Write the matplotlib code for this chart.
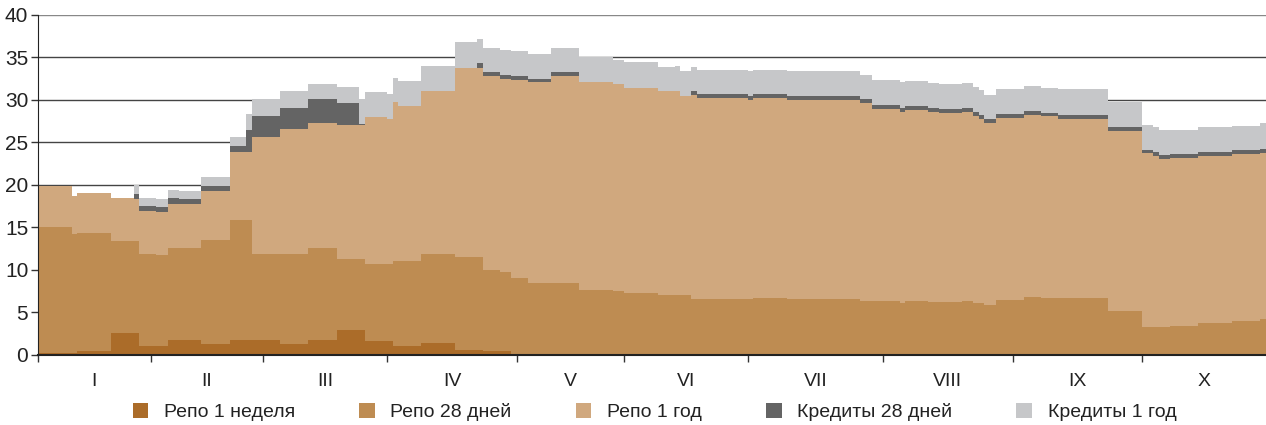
import numpy as np
import matplotlib.pyplot as plt
from matplotlib.patches import Patch

plt.rcParams['font.family'] = ['Liberation Sans Narrow', 'Liberation Sans', 'DejaVu Sans']

# business days in each month
months = ['I', 'II', 'III', 'IV', 'V', 'VI', 'VII', 'VIII', 'IX', 'X']
month_days = [20, 20, 22, 23, 19, 22, 24, 23, 23, 22]

# number of days each level was held
seg_len = [6, 1, 6, 4, 1, 3, 2, 2, 4, 5,
           3, 1, 5, 5, 5, 4, 1, 4, 1, 1,
           4, 6, 4, 1, 3, 2, 3, 4, 5, 6,
           2, 6, 3, 1, 2, 1, 9, 1, 6, 13,
           2, 5, 1, 4, 2, 4, 2, 1, 1, 2,
           5, 3, 3, 9, 6, 2, 1, 2, 5, 6,
           5, 1]

repo_1w = [0.2, 0.2, 0.45, 2.6, 2.6, 1.1, 1.1, 1.75, 1.75, 1.3,
           1.75, 1.75, 1.7, 1.25, 1.7, 2.95, 2.95, 1.65, 1.65, 1.0,
           1.0, 1.45, 0.6, 0.6, 0.4, 0.4, 0.1, 0.1, 0.1, 0.1,
           0.1, 0.1, 0.1, 0.1, 0.1, 0.1, 0.1, 0.1, 0.1, 0.1,
           0.1, 0.1, 0.1, 0.1, 0.1, 0.1, 0.1, 0.1, 0.1, 0.1,
           0.1, 0.1, 0.1, 0.1, 0.1, 0.1, 0.1, 0.1, 0.1, 0.1,
           0.1, 0.1]
repo_28d = [14.8, 14.0, 13.85, 10.85, 10.85, 10.75, 10.7, 10.85, 10.85, 12.25,
            14.15, 14.15, 10.2, 10.65, 10.9, 8.35, 8.35, 9.1, 9.1, 10.1,
            10.1, 10.4, 10.9, 10.9, 9.6, 9.3, 9.0, 8.3, 8.3, 7.55,
            7.4, 7.15, 6.9, 6.95, 6.95, 6.5, 6.5, 6.45, 6.6, 6.5,
            6.25, 6.25, 6.05, 6.25, 6.1, 6.1, 6.2, 5.95, 5.95, 5.75,
            6.3, 6.7, 6.65, 6.65, 5.1, 3.2, 3.2, 3.2, 3.35, 3.65,
            3.85, 4.15]
repo_1y = [4.9, 4.5, 4.8, 5.0, 4.9, 5.05, 5.0, 5.15, 5.1, 5.75,
           8.0, 8.0, 13.7, 14.65, 14.7, 15.75, 15.75, 17.25, 17.0, 18.6,
           18.2, 19.2, 22.3, 22.3, 22.8, 22.8, 23.25, 23.65, 24.4, 24.4,
           24.4, 24.2, 24.0, 24.05, 23.45, 24.0, 23.6, 23.45, 23.5, 23.4,
           23.25, 22.6, 22.4, 22.45, 22.35, 22.3, 22.25, 22.1, 21.7, 21.4,
           21.45, 21.45, 21.3, 21.05, 21.1, 20.4, 20.15, 19.75, 19.75, 19.7,
           19.65, 19.5]
cred_28d = [0, 0, 0, 0, 0.6, 0.65, 0.6, 0.65, 0.6, 0.6,
            0.7, 2.55, 2.5, 2.55, 2.8, 2.55, 0.1, 0, 0, 0,
            0, 0, 0, 0.5, 0.45, 0.45, 0.45, 0.45, 0.45, 0,
            0, 0, 0, 0, 0, 0.45, 0.45, 0.45, 0.45, 0.45,
            0.45, 0.45, 0.45, 0.45, 0.45, 0.45, 0.45, 0.45, 0.45, 0.45,
            0.45, 0.45, 0.45, 0.45, 0.45, 0.45, 0.45, 0.45, 0.45, 0.45,
            0.45, 0.45]
cred_1y = [0, 0, 0, 0, 1.05, 0.9, 0.95, 1.0, 1.0, 1.05,
           1.0, 1.9, 2.0, 1.95, 1.75, 1.9, 2.95, 2.9, 2.95, 2.85,
           2.95, 2.95, 2.95, 2.85, 2.8, 2.95, 2.9, 2.85, 2.8, 2.95,
           2.8, 2.95, 2.85, 2.9, 2.95, 2.8, 2.9, 3.0, 2.9, 2.95,
           2.9, 2.95, 3.15, 3.0, 3.0, 2.9, 2.95, 2.9, 3.0, 2.9,
           2.95, 2.95, 2.95, 3.0, 2.95, 2.9, 2.85, 2.95, 2.85, 2.9,
           2.9, 3.05]

names = ['Репо 1 неделя', 'Репо 28 дней', 'Репо 1 год', 'Кредиты 28 дней', 'Кредиты 1 год']
colors = ['#AB6C29', '#BE8C52', '#D0A87E', '#646464', '#C6C7C9']

x = np.concatenate([[0], np.cumsum(seg_len)])
series = [repo_1w, repo_28d, repo_1y, cred_28d, cred_1y]
ys = [np.append(s, s[-1]) for s in series]

fig = plt.figure(figsize=(12.66, 4.25), dpi=100)
ax = fig.add_axes([0.030, 0.165, 0.970, 0.800])

ax.stackplot(x, ys, colors=colors, step='post', linewidth=0, zorder=2)

ax.set_xlim(0, x[-1])
ax.set_ylim(0, 40)
ax.set_yticks(np.arange(0, 41, 5))
ax.yaxis.grid(True, color='#444444', linewidth=1.0, zorder=0)
ax.set_axisbelow(True)
ax.get_ygridlines()[-1].set_color('#888888')

bounds = np.concatenate([[0], np.cumsum(month_days)])
ax.set_xticks(bounds[:-1])
ax.set_xticklabels([])
ax.set_xticks((bounds[:-1] + bounds[1:]) / 2, minor=True)
ax.set_xticklabels(months, minor=True, fontsize=14, color='#222222')
ax.tick_params(axis='x', which='major', direction='out', length=5, width=1, color='#333333')
ax.tick_params(axis='x', which='minor', length=0, pad=13)
ax.tick_params(axis='y', direction='out', length=5, width=1, color='#333333',
               labelsize=15, labelcolor='#222222', pad=2)

for s in ['top', 'right']:
    ax.spines[s].set_visible(False)
ax.spines['left'].set_color('#222222')
ax.spines['bottom'].set_color('#222222')
ax.spines['bottom'].set_linewidth(1.5)

handles = [Patch(facecolor=c, edgecolor='none') for c in colors]
fig.legend(handles, names, loc='center', bbox_to_anchor=(0.517, 0.03), ncol=5,
           frameon=False, fontsize=14, handlelength=0.8, handleheight=0.8,
           handletextpad=0.8, columnspacing=3.3, labelcolor='#222222')

fig.savefig('out.png', dpi=100)
